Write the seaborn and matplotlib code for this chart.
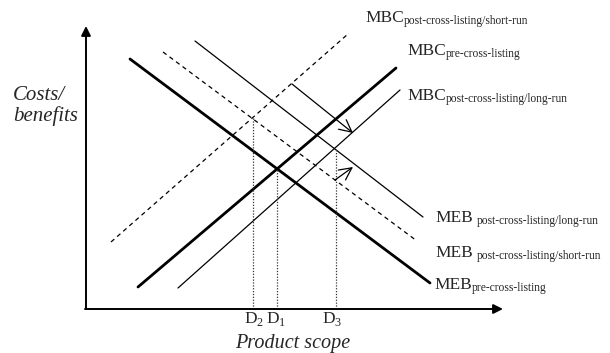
import pandas as pd
import seaborn as sns
import matplotlib.pyplot as plt

sns.set_style('white')
plt.rcParams['font.family'] = ['Liberation Serif', 'DejaVu Serif']
plt.rcParams['mathtext.fontset'] = 'custom'
plt.rcParams['mathtext.rm'] = 'Liberation Serif'

# curves: straight lines given by their two end points (scope, cost)
curve_names = ['MEB_pre', 'MEB_short', 'MEB_long', 'MBC_pre', 'MBC_short', 'MBC_long']
x_start = [44, 77, 109, 52, 25, 92]
y_start = [250, 257, 268, 22, 67, 21]
x_end = [344, 331, 337, 310, 262, 314]
y_end = [26, 68, 92, 241, 275, 219]

label_main = ['MEB', 'MEB', 'MEB', 'MBC', 'MBC', 'MBC']
label_sub = ['pre-cross-listing', 'post-cross-listing/short-run',
             'post-cross-listing/long-run', 'pre-cross-listing',
             'post-cross-listing/short-run', 'post-cross-listing/long-run']
label_gap = [0, 3, 3, 0, 0, 0]
label_x = [348, 349, 349, 321, 279, 321]
label_y = [20, 52, 87, 254, 287, 209]

# equilibrium scopes
d_x = [167, 191, 250]
d_top = [191, 140, 160]
d_labels = ['D$_2$', 'D$_1$', 'D$_3$']
d_label_x = [168, 190, 246]

# shift arrows
arrow_from = [(206, 225), (249, 129)]
arrow_to = [(267, 176), (267, 142)]

styles = {
    'MEB_pre': dict(lw=2.0, ls='-'),
    'MEB_short': dict(lw=0.9, ls=(0, (3.5, 3))),
    'MEB_long': dict(lw=0.9, ls='-'),
    'MBC_pre': dict(lw=2.0, ls='-'),
    'MBC_short': dict(lw=0.9, ls=(0, (3.5, 3))),
    'MBC_long': dict(lw=0.9, ls='-'),
}

fig = plt.figure(figsize=(6.1, 3.53), dpi=100)
ax = fig.add_axes([0, 0, 1, 1])
ax.set_xlim(-86, 524)
ax.set_ylim(-44, 309)
ax.axis('off')

for i, name in enumerate(curve_names):
    df = pd.DataFrame({'x': [x_start[i], x_end[i]], 'y': [y_start[i], y_end[i]]})
    sns.lineplot(data=df, x='x', y='y', ax=ax, color='black',
                 linewidth=styles[name]['lw'], linestyle=styles[name]['ls'])
    main = ax.text(label_x[i], label_y[i], label_main[i], fontsize=12.5,
                   ha='left', va='baseline')
    ax.annotate(label_sub[i], xy=(1, 0), xycoords=main,
                xytext=(label_gap[i], -0.8), textcoords='offset points',
                fontsize=8.3, ha='left', va='bottom')

for x, top, lx, lab in zip(d_x, d_top, d_label_x, d_labels):
    sns.lineplot(x=[x, x], y=[0, top], ax=ax, color='#333333',
                 estimator=None, sort=False,
                 linewidth=0.9, linestyle=(0, (1, 1.3)))
    ax.text(lx, -14, lab, fontsize=12.5, ha='center', va='baseline')

for a, b in zip(arrow_from, arrow_to):
    ax.annotate('', xy=b, xytext=a,
                arrowprops=dict(arrowstyle='->', lw=0.9, color='black',
                                mutation_scale=22, shrinkA=0, shrinkB=0))

# axes with arrow heads
ax.annotate('', xy=(0, 283), xytext=(0, 0),
            arrowprops=dict(arrowstyle='-|>', lw=1.4, color='black',
                            mutation_scale=14, shrinkA=0, shrinkB=0))
ax.annotate('', xy=(417, 0), xytext=(-1, 0),
            arrowprops=dict(arrowstyle='-|>', lw=1.4, color='black',
                            mutation_scale=14, shrinkA=0, shrinkB=0))

ax.text(-73, 188, 'Costs/\nbenefits', fontsize=15, style='italic',
        ha='left', va='baseline', linespacing=1.05)
ax.text(207, -39, 'Product scope', fontsize=14.5, style='italic',
        ha='center', va='baseline')

fig.savefig('out.png', dpi=100)
